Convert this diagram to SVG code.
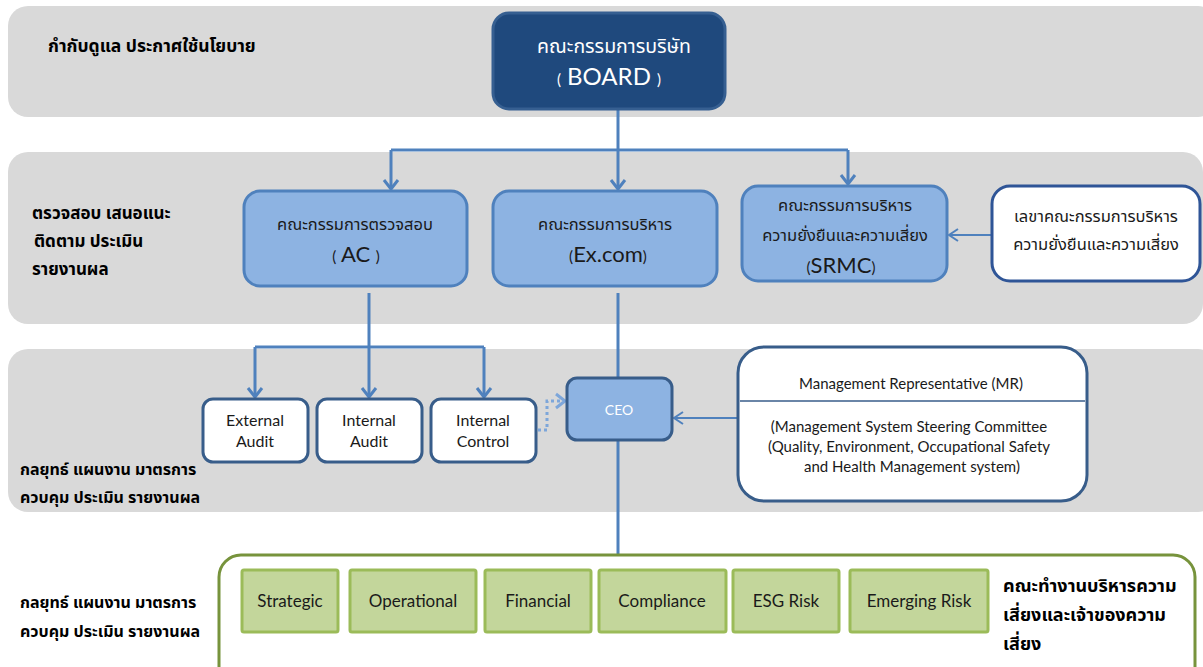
<svg xmlns="http://www.w3.org/2000/svg" width="1203" height="667" viewBox="0 0 1203 667">
<style>
.band{fill:#D9D9D9;}
.lbl{font-family:"Noto Sans Thai","Noto Serif Thai","Liberation Serif",serif;font-weight:bold;font-size:16px;fill:#000;}
.blue{fill:#8DB3E2;stroke:#4F81BD;stroke-width:3;}
.th{font-family:"Noto Sans Thai","Liberation Sans",sans-serif;font-size:16.5px;fill:#1a1a1a;text-anchor:middle;}
.en{font-family:Lato,"Liberation Sans",sans-serif;font-size:16px;fill:#1a1a1a;text-anchor:middle;}
.big{font-size:22px;}
.par{font-size:15px;}
.white{fill:#fff;stroke:#385D8A;stroke-width:3;}
.grn{fill:#C3D69B;stroke:#9BBB59;stroke-width:3;}
.gt{font-size:17px;}
.mr{font-size:15px;}
.conn{fill:none;stroke:#4F81BD;stroke-width:3;}
</style>
<defs>
<marker id="ah" markerUnits="userSpaceOnUse" markerWidth="14" markerHeight="18" viewBox="0 0 14 18" refX="11" refY="9" orient="auto">
<path d="M2,2 L11,9 L2,16" fill="none" stroke="#4F81BD" stroke-width="3"/>
</marker>
<marker id="ahd" markerUnits="userSpaceOnUse" markerWidth="14" markerHeight="18" viewBox="0 0 14 18" refX="11" refY="9" orient="auto">
<path d="M2,2 L11,9 L2,16" fill="none" stroke="#7DA6DA" stroke-width="3"/>
</marker>
<marker id="ahs" markerUnits="userSpaceOnUse" markerWidth="14" markerHeight="18" viewBox="0 0 14 18" refX="11" refY="9" orient="auto">
<path d="M2,3 L11,9 L2,15" fill="none" stroke="#4F81BD" stroke-width="2"/>
</marker>
</defs>
<g id="bands">
<rect class="band" x="8" y="6" width="1210" height="111" rx="20"/>
<rect class="band" x="8" y="152" width="1195" height="172" rx="20"/>
<rect class="band" x="8" y="349" width="1210" height="163" rx="20"/>
<text class="lbl" x="48" y="52" style="font-size:17.5px">กำกับดูแล ประกาศใช้นโยบาย</text>
<text class="lbl" x="32" y="219" style="font-size:17px">ตรวจสอบ เสนอแนะ</text>
<text class="lbl" x="34" y="247" style="font-size:17px"> ติดตาม ประเมิน</text>
<text class="lbl" x="32" y="275" style="font-size:17px">รายงานผล</text>
<text class="lbl" x="20" y="475">กลยุทธ์ แผนงาน มาตรการ</text>
<text class="lbl" x="20" y="503">ควบคุม ประเมิน รายงานผล</text>
<text class="lbl" x="20" y="608">กลยุทธ์ แผนงาน มาตรการ</text>
<text class="lbl" x="20" y="637">ควบคุม ประเมิน รายงานผล</text>
</g>
<g id="connectors">
<path class="conn" d="M618,109 V150"/>
<path class="conn" d="M391,150 H848"/>
<path class="conn" d="M391,150 V189" marker-end="url(#ah)"/>
<path class="conn" d="M618,150 V189" marker-end="url(#ah)"/>
<path class="conn" d="M848,150 V184" marker-end="url(#ah)"/>
<path class="conn" d="M992,235 H949" marker-end="url(#ahs)" style="stroke-width:2"/>
<path class="conn" d="M369,293 V347"/>
<path class="conn" d="M255,347 H484"/>
<path class="conn" d="M255,347 V397" marker-end="url(#ah)"/>
<path class="conn" d="M369,347 V397" marker-end="url(#ah)"/>
<path class="conn" d="M484,347 V397" marker-end="url(#ah)"/>
<path d="M538,430 H547 V401 H565" fill="none" stroke="#7DA6DA" stroke-width="3" stroke-dasharray="3,3" marker-end="url(#ahd)"/>
<path class="conn" d="M618,293 V378"/>
<path class="conn" d="M618,440 V555"/>
<path class="conn" d="M738,418 H674" marker-end="url(#ahs)" style="stroke-width:2"/>
</g>
<g id="board">
<rect x="493" y="13" width="232" height="96" rx="16" fill="#1F497D" stroke="#365F91" stroke-width="3"/>
<text x="614" y="53" font-family="'Noto Sans Thai','Liberation Sans',sans-serif" font-size="19.5" fill="#fff" text-anchor="middle">คณะกรรมการบริษัท</text>
<text x="609" y="85" font-family="Lato,'Liberation Sans',sans-serif" font-size="24" fill="#fff" text-anchor="middle"><tspan font-size="15">(</tspan> BOARD <tspan font-size="15">)</tspan></text>
</g>
<g id="ac">
<rect class="blue" x="244" y="191" width="223" height="95" rx="16"/>
<text class="th" x="355" y="230">คณะกรรมการตรวจสอบ</text>
<text class="en big" x="356" y="262"><tspan class="par">(</tspan> AC <tspan class="par">)</tspan></text>
</g>
<g id="excom">
<rect class="blue" x="493" y="191" width="224" height="95" rx="16"/>
<text class="th" x="605" y="230">คณะกรรมการบริหาร</text>
<text class="en big" x="608" y="262"><tspan class="par">(</tspan>Ex.com<tspan class="par">)</tspan></text>
</g>
<g id="srmc">
<rect class="blue" x="742" y="186" width="205" height="95" rx="16"/>
<text class="th" x="845" y="211">คณะกรรมการบริหาร</text>
<text class="th" x="845" y="241">ความยั่งยืนและความเสี่ยง</text>
<text class="en big" x="841" y="273"><tspan class="par">(</tspan>SRMC<tspan class="par">)</tspan></text>
</g>
<g id="secretary">
<rect x="992" y="186" width="208" height="95" rx="18" fill="#fff" stroke="#2F5597" stroke-width="3"/>
<text class="th" x="1096" y="222">เลขาคณะกรรมการบริหาร</text>
<text class="th" x="1096" y="250">ความยั่งยืนและความเสี่ยง</text>
</g>
<g id="external-audit">
<rect class="white" x="203" y="399" width="105" height="63" rx="10"/>
<text class="en" x="255" y="426">External</text>
<text class="en" x="255" y="447">Audit</text>
</g>
<g id="internal-audit">
<rect class="white" x="317" y="399" width="105" height="63" rx="10"/>
<text class="en" x="369" y="426">Internal</text>
<text class="en" x="369" y="447">Audit</text>
</g>
<g id="internal-control">
<rect class="white" x="431" y="399" width="105" height="63" rx="10"/>
<text class="en" x="483" y="426">Internal</text>
<text class="en" x="483" y="447">Control</text>
</g>
<g id="ceo">
<rect x="567" y="378" width="105" height="62" rx="10" fill="#8DB3E2" stroke="#385D8A" stroke-width="3"/>
<text class="en" x="619" y="415" style="fill:#fff;font-size:14px">CEO</text>
</g>
<g id="mr">
<rect class="white" x="738" y="347" width="349" height="154" rx="26"/>
<line x1="740" y1="401" x2="1085" y2="401" stroke="#385D8A" stroke-width="1.5"/>
<text class="en mr" x="911" y="389">Management Representative (MR)</text>
<text class="en mr" x="909" y="432">(Management System Steering Committee</text>
<text class="en mr" x="909" y="452">(Quality, Environment, Occupational Safety</text>
<text class="en mr" x="912" y="472">and Health Management system)</text>
</g>
<g id="risk-group">
<rect x="219" y="555" width="976" height="140" rx="22" fill="#fff" stroke="#77933C" stroke-width="3"/>
<text class="lbl" x="1003" y="592" style="font-size:18px">คณะทำงานบริหารความ</text>
<text class="lbl" x="1003" y="621" style="font-size:18px">เสี่ยงและเจ้าของความ</text>
<text class="lbl" x="1003" y="650" style="font-size:18px">เสี่ยง</text>
</g>
<g id="strategic"><rect class="grn" x="242" y="570" width="96" height="62" rx="2"/><text class="en gt" x="290" y="607">Strategic</text></g>
<g id="operational"><rect class="grn" x="350" y="570" width="126" height="62" rx="2"/><text class="en gt" x="413" y="607">Operational</text></g>
<g id="financial"><rect class="grn" x="485" y="570" width="106" height="62" rx="2"/><text class="en gt" x="538" y="607">Financial</text></g>
<g id="compliance"><rect class="grn" x="599" y="570" width="127" height="62" rx="2"/><text class="en gt" x="662" y="607">Compliance</text></g>
<g id="esg-risk"><rect class="grn" x="733" y="570" width="106" height="62" rx="2"/><text class="en gt" x="786" y="607">ESG Risk</text></g>
<g id="emerging-risk"><rect class="grn" x="850" y="570" width="138" height="62" rx="2"/><text class="en gt" x="919" y="607">Emerging Risk</text></g>
</svg>
